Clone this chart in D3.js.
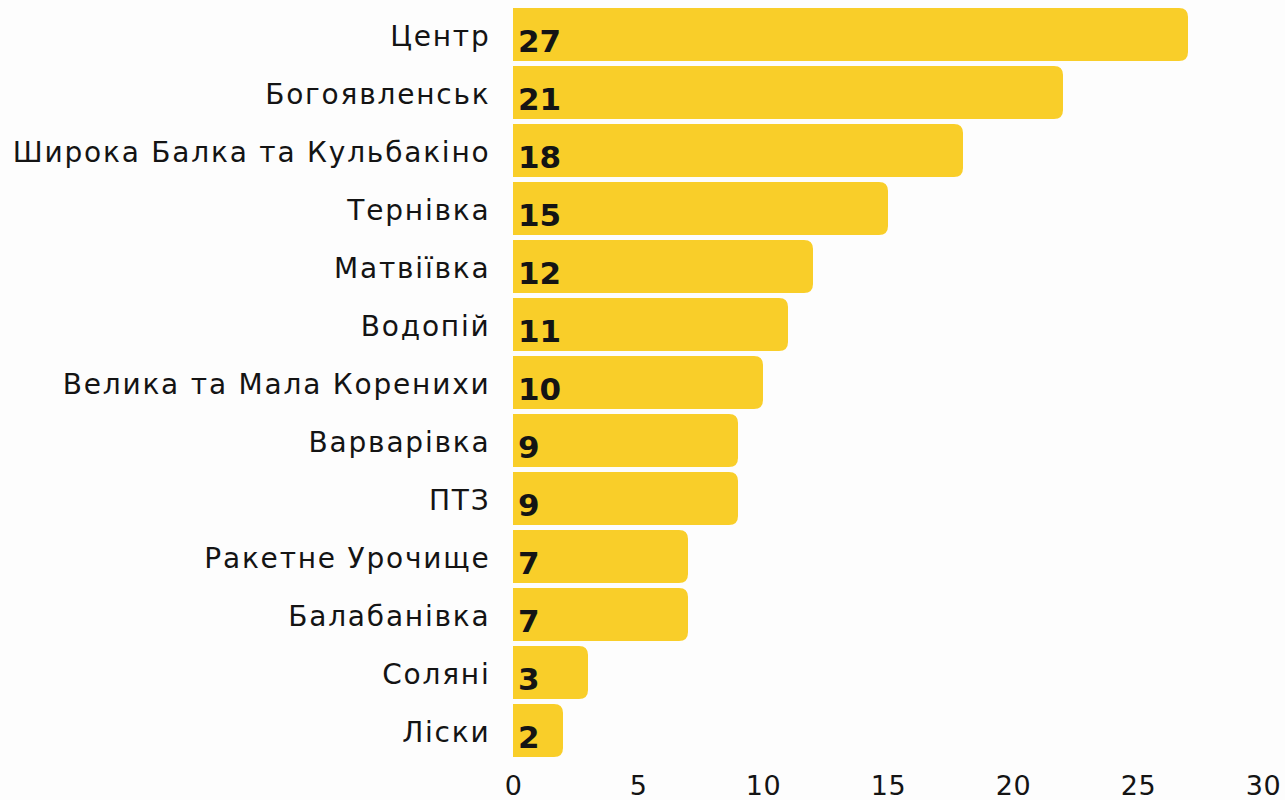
<!DOCTYPE html>
<html>
<head>
<meta charset="utf-8">
<script src="https://cdn.jsdelivr.net/npm/d3@7"></script>
<style>
  html, body { margin: 0; padding: 0; background: #fdfdfd; }
  svg { display: block; }
</style>
</head>
<body>
<svg id="chart" width="1285" height="800"></svg>
<script>
var categories = ["Центр", "Богоявленськ", "Широка Балка та Кульбакіно", "Тернівка", "Матвіївка",
    "Водопій", "Велика та Мала Коренихи", "Варварівка", "ПТЗ", "Ракетне Урочище",
    "Балабанівка", "Соляні", "Ліски"]
var values = [27, 22, 18, 15, 12, 11, 10, 9, 9, 7, 7, 3, 2]
var valueLabels = ["27", "21", "18", "15", "12", "11", "10", "9", "9", "7", "7", "3", "2"]
var ticks = [0, 5, 10, 15, 20, 25, 30]

var svg = d3.select("#chart")
var fontFamily = "'DejaVu Sans', sans-serif"

var x = d3.scaleLinear().domain([0, 30]).range([513, 1263])
var y = d3.scaleBand().domain(categories).range([8, 757]).paddingInner(0.0862).paddingOuter(0)

var r = 9
function barPath(d, i) {
    var x0 = x(0), x1 = x(values[i]), y0 = y(categories[i]), h = y.bandwidth()
    var rr = Math.min(r, (x1 - x0) / 2)
    return "M" + x0 + "," + y0 +
        "H" + (x1 - rr) +
        "Q" + x1 + "," + y0 + " " + x1 + "," + (y0 + rr) +
        "V" + (y0 + h - rr) +
        "Q" + x1 + "," + (y0 + h) + " " + (x1 - rr) + "," + (y0 + h) +
        "H" + x0 + "Z"
}

svg.append("g")
    .selectAll("path")
    .data(values)
    .enter().append("path")
    .attr("d", barPath)
    .attr("fill", "#f9ce29")

svg.append("g")
    .selectAll("text")
    .data(valueLabels)
    .enter().append("text")
    .attr("x", x(0) + 5)
    .attr("y", function(d, i) { return y(categories[i]) + y.bandwidth() - 9; })
    .attr("font-family", fontFamily)
    .attr("font-weight", "bold")
    .attr("font-size", 31)
    .attr("fill", "#141414")
    .text(function(d) { return d; })

svg.append("g")
    .selectAll("text")
    .data(categories)
    .enter().append("text")
    .attr("x", 490.5)
    .attr("y", function(d) { return y(d) + y.bandwidth() / 2 + 11.5; })
    .attr("text-anchor", "end")
    .attr("font-family", fontFamily)
    .attr("font-size", 28)
    .attr("letter-spacing", "1.8px")
    .attr("fill", "#141414")
    .text(function(d) { return d; })

var xAxis = d3.axisBottom(x).tickValues(ticks).tickSize(0).tickPadding(0)
var gx = svg.append("g")
    .attr("transform", "translate(0,776)")
    .call(xAxis)
gx.select(".domain").remove()
gx.selectAll("text")
    .attr("font-family", fontFamily)
    .attr("font-size", 27)
    .attr("letter-spacing", "0.5px")
    .attr("fill", "#141414")
    .attr("dy", "0.72em")
</script>
</body>
</html>
